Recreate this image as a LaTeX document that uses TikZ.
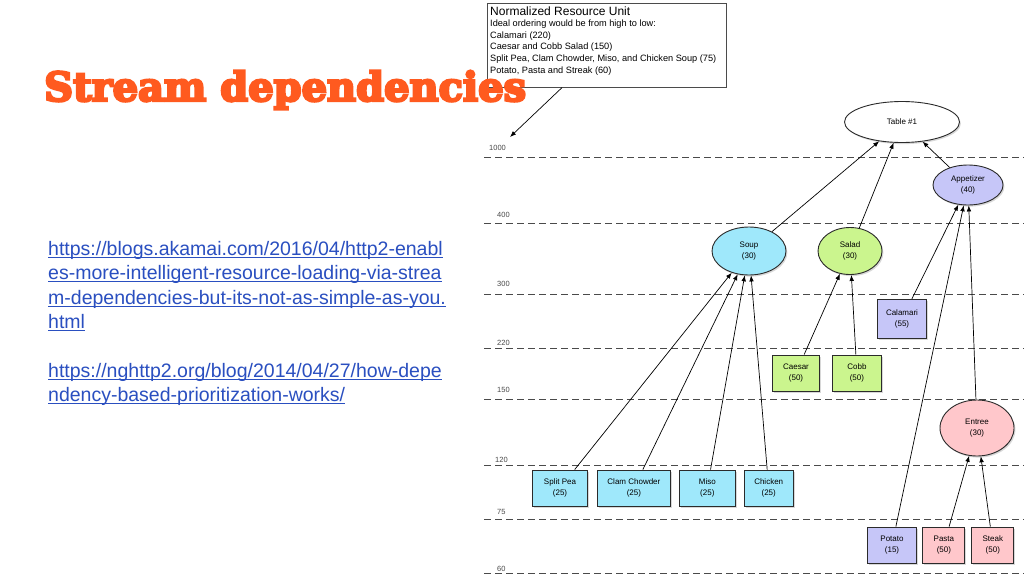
\documentclass[tikz,border=0pt]{standalone}
\usepackage{fontspec}
\setmainfont{Liberation Sans}
\newfontfamily\slabfont{DejaVu Serif Bold}[FakeBold=6]
\usetikzlibrary{arrows.meta, positioning, shapes.geometric, shadows}
\definecolor{titleOrange}{HTML}{FF5A1F}
\definecolor{linkBlue}{HTML}{2A4FC0}
\definecolor{soupCyan}{HTML}{9FE8FB}
\definecolor{saladGreen}{HTML}{CBF58E}
\definecolor{appLav}{HTML}{C6C6F8}
\definecolor{entreePink}{HTML}{FFC7CB}
\definecolor{edgeDark}{HTML}{2B2B2B}
\definecolor{levelGray}{HTML}{4A4A4A}

% underlined link line (rule sits just under the baseline)
\newcommand{\ulink}[1]{\setbox0\hbox{#1}\rlap{\rule[-2.4pt]{\wd0}{0.9pt}}\box0}

\begin{document}
\begin{tikzpicture}[
  x=1pt, y=-1pt,
  font=\fontsize{8}{10.5}\selectfont,
  course/.style={ellipse, draw=edgeDark, line width=0.9pt, align=center, inner sep=0pt,
                 drop shadow={opacity=0.3, shadow xshift=1.4pt, shadow yshift=-1.6pt}},
  dish/.style={rectangle, draw=edgeDark, line width=0.9pt, align=center, inner sep=0pt,
               minimum height=36pt,
               drop shadow={opacity=0.3, shadow xshift=1.4pt, shadow yshift=-1.6pt}},
  dep/.style={-{Latex[length=6pt, width=4.6pt]}, draw=black, line width=0.7pt},
  levelline/.style={draw=levelGray, line width=1pt, dash pattern=on 7pt off 4pt},
  levellabel/.style={anchor=base west, inner sep=0pt, text=levelGray,
                     font=\fontsize{7.5}{9}\selectfont},
  link/.style={anchor=base west, align=left, inner sep=0pt, text=linkBlue,
               font=\fontsize{19.5}{24.6}\selectfont}
]
  \useasboundingbox[fill=white] (0,0) rectangle (1024,576);

  % --- resource-unit levels (dashed) ---
  \foreach \val/\ly/\lx/\by in {1000/157.5/489/150, 400/223.5/497/217, 300/294.5/497/286,
                                220/348/497/345, 150/399/497/392, 120/465/495/462,
                                75/519/497/514, 60/573.5/497/571} {
    \draw[levelline] (484,\ly) -- (1024,\ly);
    \node[levellabel] (lbl\val) at (\lx,\by) {\val};
  }

  % --- legend box (text anchored at its last baseline) ---
  \node[draw=edgeDark!85, line width=0.9pt, anchor=north west, inner sep=0pt,
        minimum width=239pt, minimum height=84pt] (legend) at (487,2.7) {};
  \node[anchor=base west, align=left, inner sep=0pt,
        font=\fontsize{9.2}{11.6}\selectfont] (legendtext) at (490,73)
    {{\fontsize{12}{11.7}\selectfont Normalized Resource Unit}\\
     Ideal ordering would be from high to low:\\
     Calamari (220)\\
     Caesar and Cobb Salad (150)\\
     Split Pea, Clam Chowder, Miso, and Chicken Soup (75)\\
     Potato, Pasta and Streak (60)};
  \coordinate (legendtip) at (510,137);
  \draw[dep] ([xshift=75pt]legend.south west) -- (legendtip);

  % --- title (sits over the legend box) ---
  \node[anchor=base west, inner sep=0pt, text=titleOrange,
        font={\slabfont\fontsize{40}{44}\selectfont}] (title) at (44,101)
    {Stream dependencies};

  % --- links (anchored at the last line) ---
  \node[link] (akamai) at (48,328.8)
    {\ulink{https://blogs.akamai.com/2016/04/http2-enabl}\\
     \ulink{es-more-intelligent-resource-loading-via-strea}\\
     \ulink{m-dependencies-but-its-not-as-simple-as-you.}\\
     \ulink{html}};
  \node[link] (nghttp) at (48,401.6)
    {\ulink{https://nghttp2.org/blog/2014/04/27/how-depe}\\
     \ulink{ndency-based-prioritization-works/}};

  % --- inner nodes ---
  \node[course, fill=white, minimum width=115pt, minimum height=41pt] (table) at (902,122) {Table \#1};
  \node[course, fill=appLav, minimum width=70pt, minimum height=40pt] (appetizer) at (968,185) {Appetizer\\(40)};
  \node[course, fill=soupCyan, minimum width=74pt, minimum height=48pt] (soup) at (749,251) {Soup\\(30)};
  \node[course, fill=saladGreen, minimum width=64pt, minimum height=47pt] (salad) at (850,251) {Salad\\(30)};
  \node[course, fill=entreePink, minimum width=74pt, minimum height=56pt] (entree) at (977,428) {Entree\\(30)};

  % --- leaves ---
  \node[dish, fill=appLav, minimum width=49pt, minimum height=39pt] (calamari) at (902,319) {Calamari\\(55)};
  \node[dish, fill=saladGreen, minimum width=47pt] (caesar) at (796,373) {Caesar\\(50)};
  \node[dish, fill=saladGreen, minimum width=49pt, right=12pt of caesar] (cobb) {Cobb\\(50)};
  \node[dish, fill=soupCyan, minimum width=55pt] (splitpea) at (560,488) {Split Pea\\(25)};
  \node[dish, fill=soupCyan, minimum width=73pt, right=9pt of splitpea] (clam) {Clam Chowder\\(25)};
  \node[dish, fill=soupCyan, minimum width=56pt, right=8pt of clam] (miso) {Miso\\(25)};
  \node[dish, fill=soupCyan, minimum width=49pt, right=8pt of miso] (chicken) {Chicken\\(25)};
  \node[dish, fill=appLav, minimum width=49pt] (potato) at (892,545) {Potato\\(15)};
  \node[dish, fill=entreePink, minimum width=42pt, right=5.5pt of potato] (pasta) {Pasta\\(50)};
  \node[dish, fill=entreePink, minimum width=42pt, right=6pt of pasta] (steak) {Steak\\(50)};

  % --- dependencies (child -> parent) ---
  \draw[dep] (soup) -- (table);
  \draw[dep] (salad) -- (table);
  \draw[dep] (appetizer) -- (table);
  \draw[dep] (calamari) -- (appetizer);
  \draw[dep] (potato) -- (appetizer);
  \draw[dep] (entree) -- (appetizer);
  \draw[dep] (splitpea) -- (soup);
  \draw[dep] (clam) -- (soup);
  \draw[dep] (miso) -- (soup);
  \draw[dep] (chicken) -- (soup);
  \draw[dep] (caesar) -- (salad);
  \draw[dep] (cobb) -- (salad);
  \draw[dep] (pasta) -- (entree);
  \draw[dep] (steak) -- (entree);

\end{tikzpicture}
\end{document}
